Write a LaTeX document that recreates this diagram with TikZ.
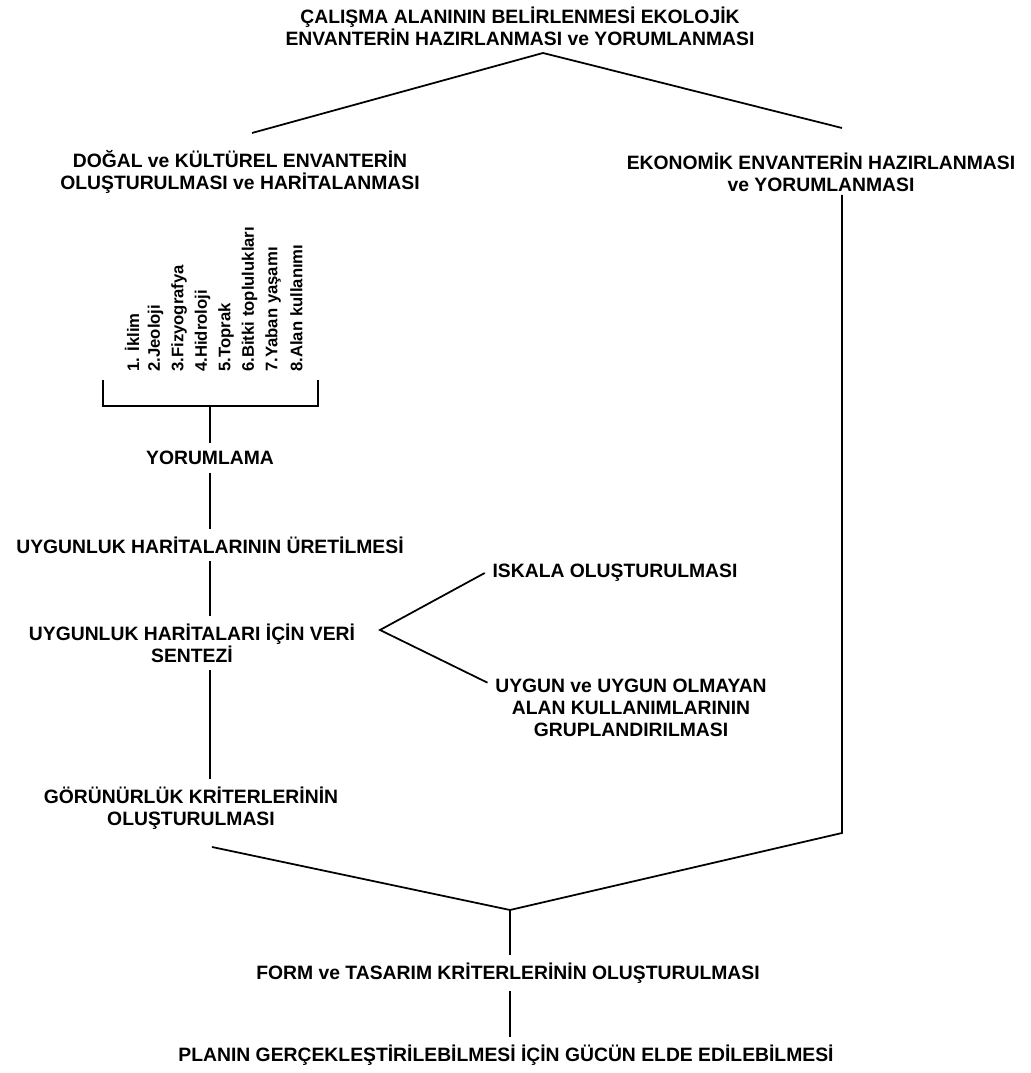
\documentclass[tikz,border=0pt]{standalone}
\usepackage{fontspec}
\setmainfont{Liberation Sans}

\begin{document}
\begin{tikzpicture}[
        box/.style={font=\bfseries\fontsize{11}{12.5}\selectfont, align=center, inner sep=0.15cm},
        item/.style={font=\bfseries\fontsize{9.5}{11}\selectfont, rotate=90, anchor=west, inner sep=0pt},
        link/.style={line width=1pt}]
        \useasboundingbox (0,0) rectangle (20.6,21.46);

        % Heading and first split
        \node[box] (study) at (10.4,20.94) {ÇALIŞMA ALANININ BELİRLENMESİ EKOLOJİK\\ENVANTERİN HAZIRLANMASI ve YORUMLANMASI};
        \node[box] (natural) at (4.8,18.02) {DOĞAL ve KÜLTÜREL ENVANTERİN\\OLUŞTURULMASI ve HARİTALANMASI};
        \node[box] (economic) at (16.42,18.02) {EKONOMİK ENVANTERİN HAZIRLANMASI\\ve YORUMLANMASI};
        \coordinate (topFork) at (10.86,20.40);
        \coordinate (natTop) at (5.04,18.80);
        \coordinate (ecoTop) at (16.84,18.90);
        \draw[link] (natTop) -- (topFork) -- (ecoTop);

        % Inventory items
        \foreach \txt [count=\i from 0] in {1. İklim,2.Jeoloji,3.Fizyografya,4.Hidroloji,5.Toprak,6.Bitki toplulukları,7.Yaban yaşamı,8.Alan kullanımı}
            \node[item] (item\i) at ({2.64+0.47*\i},14.02) {\txt};

        % Bracket
        \coordinate (brL) at (2.06,13.86);
        \coordinate (brR) at (6.36,13.86);
        \coordinate (brM) at (4.2,13.34);
        \draw[link] (brL) |- (brM) -| (brR);

        % Left column
        \node[box] (interp) at (4.2,12.30) {YORUMLAMA};
        \node[box] (suitmap) at (4.2,10.56) {UYGUNLUK HARİTALARININ ÜRETİLMESİ};
        \node[box] (synth) at (3.84,8.6) {UYGUNLUK HARİTALARI İÇİN VERİ\\SENTEZİ};
        \node[box] (visual) at (3.82,5.3) {GÖRÜNÜRLÜK KRİTERLERİNİN\\OLUŞTURULMASI};
        \draw[link] (brM) -- (interp);
        \draw[link] (interp) -- (suitmap);
        \draw[link] (suitmap) -- (suitmap |- synth.north);
        \draw[link] (synth.south -| suitmap) -- (visual.north -| suitmap);

        % Side branch
        \node[box] (scale) at (12.3,10.0) {ISKALA OLUŞTURULMASI};
        \node[box] (grouping) at (12.62,7.3) {UYGUN ve UYGUN OLMAYAN\\ALAN KULLANIMLARININ\\GRUPLANDIRILMASI};
        \coordinate (sideFork) at (7.6,8.86);
        \draw[link] (scale.west) -- (sideFork) -- (grouping.170);

        % Joining both branches
        \coordinate (ecoStart) at (16.84,17.56);
        \coordinate (ecoEnd) at (16.84,4.80);
        \coordinate (join) at (10.2,3.26);
        \coordinate (visEnd) at (4.24,4.52);
        \draw[link] (ecoStart) -- (ecoEnd) -- (join) -- (visEnd);

        % Bottom
        \node[box] (form) at (10.16,2.0) {FORM ve TASARIM KRİTERLERİNİN OLUŞTURULMASI};
        \node[box] (plan) at (10.12,0.36) {PLANIN GERÇEKLEŞTİRİLEBİLMESİ İÇİN GÜCÜN ELDE EDİLEBİLMESİ};
        \draw[link] (join) -- (form.north -| join);
        \draw[link] (form.south -| join) -- (plan.north -| join);

    \end{tikzpicture}
\end{document}
